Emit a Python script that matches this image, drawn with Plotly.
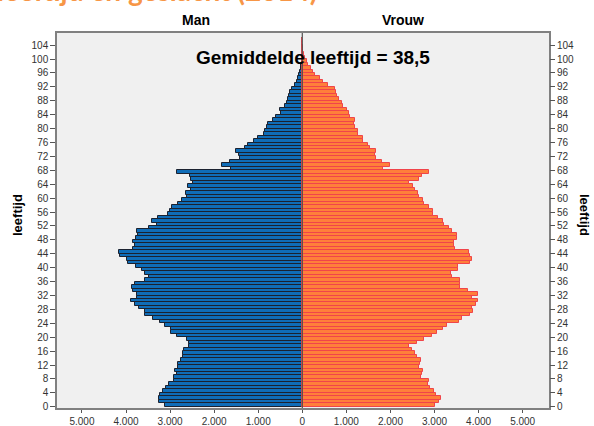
import plotly.graph_objects as go

ages = list(range(0, 106))

man = [3115, 3245, 3252, 3229, 3168, 3093, 3018, 2904, 2904, 2836,
       2889, 2828, 2813, 2760, 2714, 2700, 2684, 2564, 2564, 2609,
       2836, 2979, 2979, 3115, 3229, 3395, 3569, 3569, 3699, 3796,
       3887, 3758, 3744, 3835, 3872, 3796, 3569, 3471, 3569, 3645,
       3774, 3963, 3985, 4137, 4152, 3849, 3796, 3849, 3774, 3721,
       3744, 3478, 3305, 3418, 3282, 3040, 3002, 2964, 2813, 2737,
       2609, 2639, 2526, 2587, 2473, 2526, 2548, 2851, 1625, 1830,
       1640, 1414, 1436, 1504, 1300, 1225, 1089, 998, 869, 846,
       794, 771, 658, 597, 491, 506, 393, 355, 332, 295,
       279, 241, 166, 128, 105, 75, 52, 37, 22, 14,
       8, 4, 2, 1, 1, 0]

vrouw = [3011, 3109, 3147, 3034, 2988, 2898, 2860, 2882, 2686, 2709,
         2731, 2648, 2671, 2686, 2595, 2557, 2481, 2428, 2600, 2762,
         2935, 3049, 3185, 3291, 3563, 3631, 3805, 3881, 3843, 3934,
         3979, 3843, 3979, 3767, 3587, 3579, 3579, 3390, 3375, 3528,
         3543, 3815, 3845, 3815, 3791, 3465, 3435, 3450, 3510, 3510,
         3390, 3322, 3210, 3202, 3088, 2958, 2960, 2884, 2771, 2746,
         2657, 2632, 2557, 2505, 2414, 2639, 2723, 2882, 1838, 1990,
         1801, 1672, 1650, 1672, 1536, 1498, 1384, 1370, 1271, 1271,
         1196, 1173, 1196, 1082, 1067, 1007, 916, 893, 840, 795,
         757, 742, 590, 477, 401, 288, 235, 197, 136, 99,
         61, 35, 18, 8, 4, 2]

x_tickvals = [-5000, -4000, -3000, -2000, -1000, 0, 1000, 2000, 3000, 4000, 5000]
x_ticktext = ["5.000", "4.000", "3.000", "2.000", "1.000", "0",
              "1.000", "2.000", "3.000", "4.000", "5.000"]
y_tickvals = list(range(0, 105, 4))

title_text = "leeftijd en geslacht (2014)"
mean_text = "Gemiddelde leeftijd = 38,5"
axis_title = "leeftijd"

FONT = "Liberation Sans, Arial, sans-serif"

fig = go.Figure()
fig.add_trace(go.Bar(
    x=[-v for v in man], y=ages, orientation="h", width=1, offset=0,
    marker=dict(color="#0F6DB8", line=dict(color="#1B2230", width=1)),
    showlegend=False, hoverinfo="skip"))
fig.add_trace(go.Bar(
    x=vrouw, y=ages, orientation="h", width=1, offset=0,
    marker=dict(color="#FF7F3A", line=dict(color="#F0444A", width=1)),
    showlegend=False, hoverinfo="skip"))
fig.add_trace(go.Scatter(x=[None], y=[None], yaxis="y2", mode="markers",
                         showlegend=False, hoverinfo="skip"))

yrange = [-0.35, 107.5]
tickfont = dict(family=FONT, size=10, color="#333333")

fig.update_layout(
    width=594, height=426,
    margin=dict(l=57, r=45, t=33, b=18, pad=0),
    paper_bgcolor="white", plot_bgcolor="#F0F0F0",
    barmode="overlay", bargap=0,
    font=dict(family=FONT, color="#000000"),
    xaxis=dict(range=[-5566, 5598], tickvals=x_tickvals, ticktext=x_ticktext,
               ticks="outside", ticklen=3, tickcolor="#555555", tickwidth=1,
               tickfont=dict(family=FONT, size=10, color="#333333"),
               showgrid=False, zeroline=False, automargin=False,
               showline=True, linecolor="#808080", linewidth=1.5, mirror=True),
    yaxis=dict(range=yrange, tickvals=y_tickvals, ticks="outside", ticklen=5,
               tickcolor="#555555", tickwidth=1, tickfont=tickfont,
               showgrid=False, zeroline=False, automargin=False,
               showline=True, linecolor="#808080", linewidth=1.5, mirror=True),
    yaxis2=dict(range=yrange, tickvals=y_tickvals, ticks="outside", ticklen=5,
                tickcolor="#555555", tickwidth=1, tickfont=tickfont,
                overlaying="y", side="right", showgrid=False, zeroline=False,
                automargin=False, showline=False),
)

fig.add_shape(type="line", xref="x", yref="paper", x0=0, x1=0, y0=0, y1=1,
              line=dict(color="#505050", width=1.2), layer="above")

annots = [
    dict(text="<b>Man</b>", x=0.25, y=1.035, xref="paper", yref="paper",
         yanchor="middle", font=dict(size=14, family=FONT)),
    dict(text="<b>Vrouw</b>", x=0.75, y=1.035, xref="paper", yref="paper",
         yanchor="middle", font=dict(size=14, family=FONT)),
    dict(text="<b>" + mean_text + "</b>", x=0.52, y=0.935, xref="paper", yref="paper",
         yanchor="middle", font=dict(size=19, family=FONT)),
    dict(text="<b>" + axis_title + "</b>", x=-0.079, y=0.515, xref="paper", yref="paper",
         textangle=-90, font=dict(size=13, family=FONT), xanchor="center"),
    dict(text="<b>" + axis_title + "</b>", x=1.071, y=0.515, xref="paper", yref="paper",
         textangle=90, font=dict(size=13, family=FONT), xanchor="center"),
    dict(text="<b>" + title_text + "</b>", x=0.5355, y=1.0632, xref="paper", yref="paper",
         xanchor="right", yanchor="bottom",
         font=dict(size=28, family="Lato, Open Sans, sans-serif", color="#F79646")),
]
for a in annots:
    a.setdefault("showarrow", False)
    fig.add_annotation(**a)

fig.write_html("out.html", config={"displayModeBar": False},
               post_script="document.body.style.margin='0';document.body.style.padding='0';")
